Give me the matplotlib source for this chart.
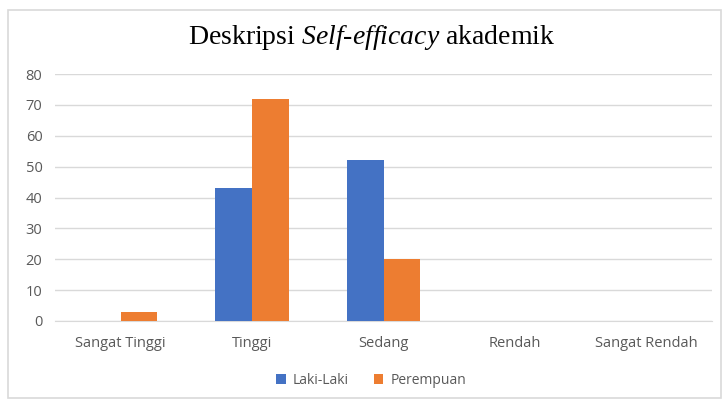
import numpy as np
import matplotlib
matplotlib.use('Agg')
import matplotlib.pyplot as plt
from matplotlib.patches import Rectangle

categories = ['Sangat Tinggi', 'Tinggi', 'Sedang', 'Rendah', 'Sangat Rendah']
laki_laki = [0, 43, 52, 0, 0]
perempuan = [3, 72, 20, 0, 0]
yticks = [0, 10, 20, 30, 40, 50, 60, 70, 80]

plt.rcParams['mathtext.fontset'] = 'custom'
plt.rcParams['mathtext.rm'] = 'Liberation Serif'
plt.rcParams['mathtext.it'] = 'Liberation Serif:italic'

fig = plt.figure(figsize=(7.24, 4.0), dpi=100)
ax = fig.add_axes([55/724, 1-321/400, (712-55)/724, (321-74)/400])

# outer chart border
fig.patches.append(Rectangle((8/724, 1-398/400), (721-8)/724, (398-10)/400,
                             transform=fig.transFigure, fill=False,
                             edgecolor='#D9D9D9', lw=1.2))

x = np.arange(len(categories))
w = 0.28
ax.bar(x - w/2, laki_laki, w, color='#4472C4', label='Laki-Laki', zorder=3)
ax.bar(x + w/2, perempuan, w, color='#ED7D31', label='Perempuan', zorder=3)

ax.set_xlim(-0.5, len(categories) - 0.5)
ax.set_ylim(0, 80)
ax.set_yticks(yticks)
ax.set_xticks(x)
ax.set_xticklabels(categories)
ax.grid(axis='y', color='#D9D9D9', lw=1, zorder=0)
for s in ['top', 'right', 'left']:
    ax.spines[s].set_visible(False)
ax.spines['bottom'].set_color('#D9D9D9')
ax.tick_params(length=0, colors='#595959')
ax.tick_params(axis='x', pad=11)
ax.tick_params(axis='y', pad=9)
for t in ax.get_xticklabels() + ax.get_yticklabels():
    t.set_fontfamily('Open Sans')
    t.set_fontsize(10.5)

fig.text(371.5/724, 1-38/400, r'Deskripsi $\mathit{Self}$-$\mathit{efficacy}$ akademik',
         ha='center', va='center', family='Liberation Serif', fontsize=20)

leg = fig.legend(loc='center', bbox_to_anchor=(371/724, 1-380/400), ncol=2,
                 frameon=False, handlelength=0.7, handleheight=0.7,
                 handletextpad=0.5, columnspacing=1.8,
                 prop={'family': 'Open Sans', 'size': 10})
for t in leg.get_texts():
    t.set_color('#595959')

fig.savefig('out.png', dpi=100)
